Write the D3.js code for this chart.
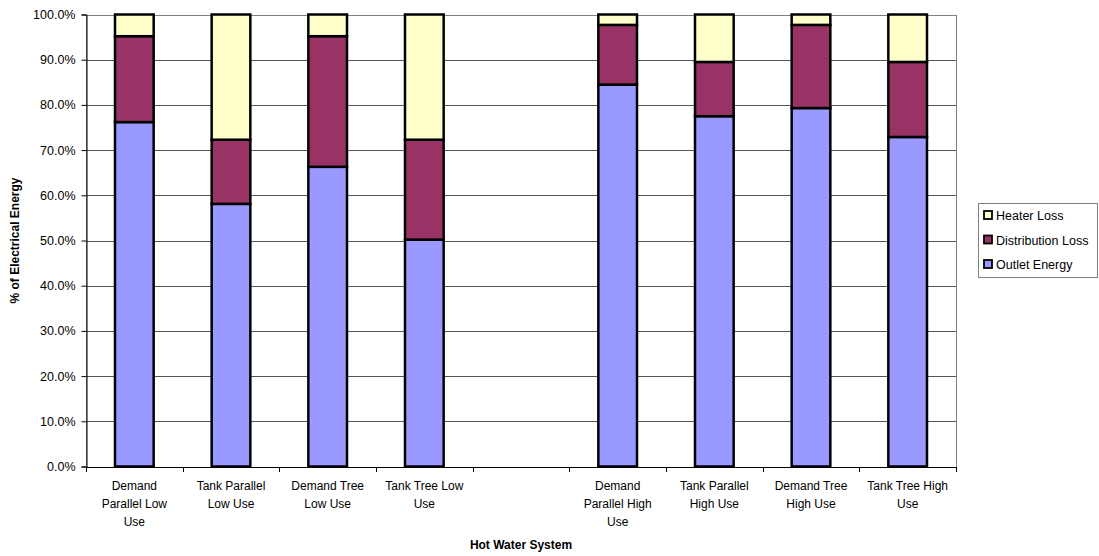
<!DOCTYPE html>
<html>
<head>
<meta charset="utf-8">
<script src="https://cdn.jsdelivr.net/npm/d3@7"></script>
<style>
  html, body { margin: 0; padding: 0; background: #fff; }
  svg { display: block; font-family: "Liberation Sans", Arial, sans-serif; }
</style>
</head>
<body>
<svg id="chart" width="1099" height="556"></svg>
<script>
// ---- data ----
const categories = [
  "Demand Parallel Low Use",
  "Tank Parallel Low Use",
  "Demand Tree Low Use",
  "Tank Tree Low Use",
  "",
  "Demand Parallel High Use",
  "Tank Parallel High Use",
  "Demand Tree High Use",
  "Tank Tree High Use"
];
const categoryLines = [
  ["Demand", "Parallel Low", "Use"],
  ["Tank Parallel", "Low Use"],
  ["Demand Tree", "Low Use"],
  ["Tank Tree Low", "Use"],
  [],
  ["Demand", "Parallel High", "Use"],
  ["Tank Parallel", "High Use"],
  ["Demand Tree", "High Use"],
  ["Tank Tree High", "Use"]
];
const seriesNames = ["Outlet Energy", "Distribution Loss", "Heater Loss"];
const outletEnergy     = [76.2, 58.1, 66.3, 50.2, null, 84.5, 77.5, 79.3, 72.9];
const distributionLoss = [19.0, 14.2, 28.9, 22.1, null, 13.2, 12.0, 18.4, 16.6];
const heaterLoss       = [4.8, 27.7, 4.8, 27.7, null, 2.3, 10.5, 2.3, 10.5];
const seriesColors = ["#9999FF", "#993366", "#FFFFCC"];
const yTicks = [0, 10, 20, 30, 40, 50, 60, 70, 80, 90, 100];
const xTitle = "Hot Water System";
const yTitle = "% of Electrical Energy";

// ---- layout ----
const svg = d3.select("#chart");
const pLeft = 86, pRight = 956, pTop = 14.5, pBottom = 466.5;

const x = d3.scaleBand().domain(d3.range(categories.length)).range([pLeft, pRight]).padding(0);
const y = d3.scaleLinear().domain([0, 100]).range([pBottom, pTop]);

const rows = categories.map((c, i) => ({
  i,
  "Outlet Energy": outletEnergy[i],
  "Distribution Loss": distributionLoss[i],
  "Heater Loss": heaterLoss[i]
}));
const stacked = d3.stack().keys(seriesNames).value((d, k) => d[k] == null ? 0 : d[k])(rows);

// gridlines
svg.append("g")
  .selectAll("line")
  .data(yTicks)
  .join("line")
  .attr("x1", pLeft).attr("x2", pRight)
  .attr("y1", d => Math.round(y(d)) + 0.5).attr("y2", d => Math.round(y(d)) + 0.5)
  .attr("stroke", "#555").attr("stroke-width", 1);

// plot border
svg.append("rect")
  .attr("x", pLeft + 0.5).attr("y", Math.round(pTop) + 0.5)
  .attr("width", pRight - pLeft).attr("height", Math.round(pBottom) - Math.round(pTop))
  .attr("fill", "none").attr("stroke", "#808080").attr("stroke-width", 1);

// bars
const barW = x.bandwidth() * 0.4;
svg.append("g")
  .selectAll("g")
  .data(stacked)
  .join("g")
  .attr("fill", (d, i) => seriesColors[i])
  .selectAll("rect")
  .data(d => d.filter(p => p.data[seriesNames[0]] != null))
  .join("rect")
  .attr("x", d => x(d.data.i) + (x.bandwidth() - barW) / 2)
  .attr("y", d => y(d[1]))
  .attr("width", barW)
  .attr("height", d => y(d[0]) - y(d[1]))
  .attr("stroke", "#000")
  .attr("stroke-width", 2.5);

// y axis
const yAxis = d3.axisLeft(y)
  .tickValues(yTicks)
  .tickFormat(d => d.toFixed(1) + "%")
  .tickSize(5)
  .tickPadding(6);
const yg = svg.append("g").attr("transform", `translate(${pLeft + 0.5},0)`).call(yAxis);
yg.select(".domain").attr("stroke", "#000");
yg.selectAll(".tick line").attr("stroke", "#000");
yg.selectAll(".tick text").attr("font-size", "12.5px").attr("fill", "#000")
  .attr("font-family", "Liberation Sans, Arial, sans-serif");

// x axis (ticks at band boundaries)
const boundaries = d3.range(categories.length + 1).map(i => pLeft + i * x.step());
svg.append("line")
  .attr("x1", pLeft).attr("x2", pRight)
  .attr("y1", Math.round(pBottom) + 0.5).attr("y2", Math.round(pBottom) + 0.5)
  .attr("stroke", "#000");
svg.append("g").selectAll("line")
  .data(boundaries)
  .join("line")
  .attr("x1", d => Math.round(d) + 0.5).attr("x2", d => Math.round(d) + 0.5)
  .attr("y1", Math.round(pBottom)).attr("y2", Math.round(pBottom) + 5)
  .attr("stroke", "#000");

// category labels
const labG = svg.append("g").attr("font-size", "12px").attr("fill", "#000").attr("text-anchor", "middle");
categoryLines.forEach((lines, i) => {
  const t = labG.append("text").attr("x", x(i) + x.bandwidth() / 2).attr("y", 490);
  lines.forEach((ln, j) => {
    t.append("tspan").attr("x", x(i) + x.bandwidth() / 2).attr("y", 490 + j * 18).text(ln);
  });
});

// axis titles
svg.append("text")
  .attr("x", (pLeft + pRight) / 2).attr("y", 549)
  .attr("text-anchor", "middle").attr("font-size", "12px").attr("font-weight", "bold")
  .text(xTitle);
svg.append("text")
  .attr("transform", `translate(19,${(pTop + pBottom) / 2}) rotate(-90)`)
  .attr("text-anchor", "middle").attr("font-size", "12px").attr("font-weight", "bold")
  .text(yTitle);

// legend
const lg = svg.append("g");
lg.append("rect")
  .attr("x", 978.5).attr("y", 203.5).attr("width", 119).attr("height", 74)
  .attr("fill", "#fff").attr("stroke", "#808080");
const legendOrder = [2, 1, 0];
legendOrder.forEach((si, j) => {
  const cy = 215.5 + j * 24.5;
  lg.append("rect")
    .attr("x", 984).attr("y", cy - 4.5).attr("width", 8).attr("height", 8)
    .attr("fill", seriesColors[si]).attr("stroke", "#000").attr("stroke-width", 1.8);
  lg.append("text")
    .attr("x", 996).attr("y", cy + 4.5)
    .attr("font-size", "12.5px").attr("fill", "#000")
    .text(seriesNames[si]);
});
</script>
</body>
</html>
